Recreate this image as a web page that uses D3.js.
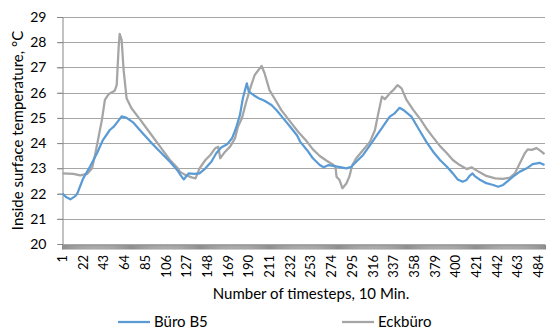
<!DOCTYPE html>
<html>
<head>
<meta charset="utf-8">
<script src="https://cdn.jsdelivr.net/npm/d3@7"></script>
<style>
    body { margin: 0; background: #fff; }
    text { font-family: Lato, "Open Sans", sans-serif; fill: #000; }
</style>
</head>
<body>
<div id="chart"></div>
<script>
// time steps (10 Min.) and temperatures
let nSteps = 490;
let tickLabels = [1, 22, 43, 64, 85, 106, 127, 148, 169, 190, 211, 232, 253, 274, 295, 316, 337, 358, 379, 400, 421, 442, 463, 484];
let yTicks = [20, 21, 22, 23, 24, 25, 26, 27, 28, 29];

let seriesNames = ["Büro B5", "Eckbüro"];

let stepsBuero = [1, 5, 9, 14, 16, 19, 22, 29, 36, 42, 49, 53, 57, 61, 66, 73, 81, 90, 100, 110, 118, 121, 124, 129, 135, 140, 146, 152, 157, 162, 168, 173, 177, 181, 184, 188, 190, 195, 200, 206, 213, 218, 225, 232, 239, 242, 249, 255, 262, 266, 271, 277, 284, 289, 294, 299, 306, 313, 320, 326, 333, 338, 343, 348, 355, 360, 364, 370, 377, 384, 391, 397, 402, 407, 411, 414, 417, 419, 424, 431, 438, 443, 448, 453, 458, 465, 472, 478, 485, 490];
let valuesBuero = [22.0, 21.85, 21.77, 21.9, 22.0, 22.3, 22.6, 23.07, 23.6, 24.12, 24.52, 24.65, 24.85, 25.06, 25.0, 24.81, 24.45, 24.06, 23.66, 23.26, 22.9, 22.72, 22.56, 22.8, 22.78, 22.8, 23.0, 23.26, 23.6, 23.83, 23.95, 24.19, 24.59, 25.11, 25.78, 26.37, 26.04, 25.9, 25.78, 25.68, 25.51, 25.31, 24.98, 24.65, 24.3, 24.06, 23.73, 23.4, 23.13, 23.04, 23.13, 23.09, 23.04, 23.0, 23.06, 23.26, 23.53, 23.92, 24.32, 24.65, 25.05, 25.18, 25.4, 25.28, 25.05, 24.72, 24.45, 24.06, 23.66, 23.33, 23.06, 22.8, 22.56, 22.47, 22.54, 22.7, 22.8, 22.7, 22.56, 22.41, 22.34, 22.27, 22.34, 22.5, 22.67, 22.87, 23.0, 23.17, 23.22, 23.13];

let stepsEck = [1, 12, 19, 26, 31, 34, 37, 41, 44, 48, 54, 56, 58, 59, 61, 63, 66, 71, 80, 90, 100, 110, 118, 120, 125, 132, 136, 140, 146, 151, 156, 159, 161, 166, 171, 176, 179, 183, 187, 192, 196, 203, 206, 211, 217, 223, 232, 240, 249, 255, 262, 269, 276, 278, 279, 282, 285, 289, 292, 295, 299, 306, 313, 318, 321, 325, 328, 333, 336, 341, 345, 350, 357, 364, 370, 377, 384, 391, 397, 404, 411, 416, 423, 431, 440, 448, 455, 460, 465, 470, 473, 477, 482, 487, 490];
let valuesEck = [22.8, 22.78, 22.72, 22.78, 23.0, 23.53, 24.12, 24.92, 25.71, 25.95, 26.08, 26.3, 27.82, 28.33, 28.09, 26.9, 25.78, 25.38, 24.92, 24.39, 23.86, 23.33, 23.0, 22.87, 22.75, 22.64, 22.6, 23.0, 23.33, 23.53, 23.8, 23.86, 23.4, 23.66, 23.86, 24.19, 24.65, 24.98, 25.58, 26.24, 26.7, 27.06, 26.77, 26.1, 25.71, 25.31, 24.85, 24.45, 24.06, 23.75, 23.49, 23.3, 23.13, 23.04, 22.67, 22.54, 22.21, 22.4, 22.67, 23.13, 23.4, 23.73, 24.06, 24.52, 25.11, 25.84, 25.74, 25.97, 26.08, 26.3, 26.17, 25.71, 25.31, 24.95, 24.59, 24.23, 23.88, 23.6, 23.33, 23.13, 22.97, 23.04, 22.87, 22.7, 22.6, 22.58, 22.63, 22.8, 23.2, 23.6, 23.75, 23.73, 23.8, 23.66, 23.56];

let colors = ["#5B9BD5", "#A5A5A5"];

window.onload = function () {
    plot();
};

function plot() {
    let width = 547, height = 329;
    let margin = {top: 17, right: 2, bottom: 85, left: 62};

    let svg = d3.select("#chart").append("svg")
        .attr("width", width)
        .attr("height", height);

    // category axis: every time step is one band, the point sits in the middle
    let x = d3.scaleBand()
        .domain(d3.range(1, nSteps + 1))
        .range([margin.left, width - margin.right]);
    let xc = function (s) { return x(s) + x.bandwidth() / 2; };

    let y = d3.scaleLinear()
        .domain([20, 29])
        .range([height - margin.bottom, margin.top]);

    // horizontal grid
    svg.append("g")
        .selectAll("line")
        .data(yTicks.slice(1))
        .enter().append("line")
        .attr("x1", margin.left - 5)
        .attr("x2", width - margin.right)
        .attr("y1", function (d) { return Math.round(y(d)) + 0.5; })
        .attr("y2", function (d) { return Math.round(y(d)) + 0.5; })
        .style("stroke", "#a6a6a6")
        .style("stroke-width", 1);

    // y axis
    let yAxis = svg.append("g")
        .attr("transform", "translate(" + (margin.left + 0.5) + ",0)")
        .call(d3.axisLeft(y).tickValues(yTicks).tickSize(5).tickPadding(11));
    yAxis.select(".domain").style("stroke", "#868686");
    yAxis.selectAll(".tick line").style("stroke", "#868686");
    yAxis.selectAll("text").style("font-size", "14px");

    // x axis, a tick for every step makes the grey band
    let xAxis = svg.append("g")
        .attr("transform", "translate(0," + (Math.round(y(20)) + 0.5) + ")")
        .call(d3.axisBottom(x).tickValues(x.domain()).tickSize(5).tickFormat(""));
    xAxis.select(".domain").style("stroke", "#868686");
    xAxis.selectAll(".tick line").style("stroke", "#8f8f8f");

    svg.append("g")
        .selectAll("text")
        .data(tickLabels)
        .enter().append("text")
        .attr("transform", function (d) {
            return "translate(" + xc(d) + "," + (y(20) + 11) + ") rotate(-90)";
        })
        .attr("text-anchor", "end")
        .attr("dy", "0.35em")
        .style("font-size", "13px")
        .text(function (d) { return d; });

    // lines
    let series = [
        {name: seriesNames[0], steps: stepsBuero, values: valuesBuero, color: colors[0]},
        {name: seriesNames[1], steps: stepsEck, values: valuesEck, color: colors[1]}
    ];

    let line = d3.line()
        .x(function (d) { return xc(d[0]); })
        .y(function (d) { return y(d[1]); });

    // grey is drawn first so blue stays on top
    series.slice().reverse().forEach(function (s) {
        svg.append("path")
            .datum(d3.zip(s.steps, s.values))
            .attr("d", line)
            .style("fill", "none")
            .style("stroke", s.color)
            .style("stroke-width", 2.25)
            .style("stroke-linejoin", "round");
    });

    // axis titles
    svg.append("text")
        .attr("transform", "translate(23," + ((y(20) + y(29)) / 2) + ") rotate(-90)")
        .attr("text-anchor", "middle")
        .style("font-size", "15px")
        .text("Inside surface temperature, °C");

    svg.append("text")
        .attr("x", 311)
        .attr("y", 299)
        .attr("text-anchor", "middle")
        .style("font-size", "15px")
        .text("Number of timesteps, 10 Min.");

    // legend
    let legendX = [118, 342];
    let legend = svg.selectAll(".legend")
        .data(series)
        .enter().append("g")
        .attr("class", "legend")
        .attr("transform", function (d, i) { return "translate(" + legendX[i] + ",322)"; });
    legend.append("line")
        .attr("x1", 0).attr("x2", 32)
        .style("stroke", function (d) { return d.color; })
        .style("stroke-width", 2.25);
    legend.append("text")
        .attr("x", 36)
        .attr("dy", "0.35em")
        .style("font-size", "15px")
        .text(function (d) { return d.name; });
}
</script>
</body>
</html>
